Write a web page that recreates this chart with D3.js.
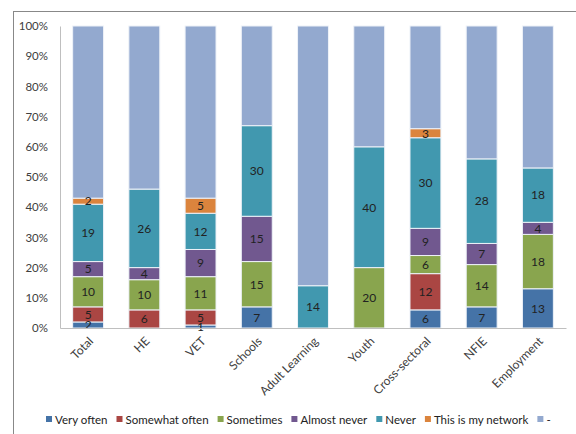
<!DOCTYPE html>
<html>
<head>
<meta charset="utf-8">
<script src="https://cdn.jsdelivr.net/npm/d3@7"></script>
<style>
  body { margin: 0; background: #fff; }
  text { font-family: Lato, "Open Sans", sans-serif; }
</style>
</head>
<body>
<div id="chart"></div>
<script>
// categories and series (percent of respondents)
var categories = ["Total", "HE", "VET", "Schools", "Adult Learning", "Youth", "Cross-sectoral", "NFIE", "Employment"];
var seriesNames = ["Very often", "Somewhat often", "Sometimes", "Almost never", "Never", "This is my network", "-"];
var veryOften      = [2, 0, 1, 7, 0, 0, 6, 7, 13];
var somewhatOften  = [5, 6, 5, 0, 0, 0, 12, 0, 0];
var sometimes      = [10, 10, 11, 15, 0, 20, 6, 14, 18];
var almostNever    = [5, 4, 9, 15, 0, 0, 9, 7, 4];
var never          = [19, 26, 12, 30, 14, 40, 30, 28, 18];
var myNetwork      = [2, 0, 5, 0, 0, 0, 3, 0, 0];
var dash           = [57, 54, 57, 33, 86, 40, 34, 44, 47];
var yTicks = [0, 10, 20, 30, 40, 50, 60, 70, 80, 90, 100];

var colors = ["#4573A7", "#AA4643", "#89A54E", "#71588F", "#4198AF", "#DB843D", "#93A9CF"];
var allSeries = [veryOften, somewhatOften, sometimes, almostNever, never, myNetwork, dash];

var data = categories.map(function(c, i) {
    var row = { name: c };
    seriesNames.forEach(function(s, j) { row[s] = allSeries[j][i]; });
    return row;
});

var W = 576, H = 434;
var margin = { top: 26, left: 60, right: 10, bottom: 106 };

var svg = d3.select("#chart").append("svg")
    .attr("width", W)
    .attr("height", H);

// outer frame
svg.append("rect")
    .attr("x", 13.5).attr("y", 11.5)
    .attr("width", W).attr("height", H)
    .attr("fill", "none")
    .attr("stroke", "#888")
    .attr("stroke-width", 1);

var x = d3.scaleBand()
    .domain(categories)
    .range([margin.left, 566])
    .paddingInner(0.45)
    .paddingOuter(0.225);

var y = d3.scaleLinear()
    .domain([0, 100])
    .range([H - margin.bottom, margin.top]);

var stacked = d3.stack().keys(seriesNames)(data);

// bars
var groups = svg.append("g")
    .selectAll("g")
    .data(stacked)
    .enter().append("g")
    .attr("fill", function(d, i) { return colors[i]; });

groups.selectAll("rect")
    .data(function(d) { return d.filter(function(p) { return p[1] - p[0] > 0; }); })
    .enter().append("rect")
    .attr("x", function(d) { return x(d.data.name); })
    .attr("y", function(d) { return y(d[1]); })
    .attr("width", x.bandwidth())
    .attr("height", function(d) { return y(d[0]) - y(d[1]); })
    .attr("stroke", "#eef2f8")
    .attr("stroke-width", 1);

// value labels (not for "-")
stacked.forEach(function(layer, i) {
    if (layer.key === "-") return;
    svg.append("g")
        .selectAll("text")
        .data(layer.filter(function(d) { return d[1] - d[0] > 0; }))
        .enter().append("text")
        .attr("x", function(d) { return x(d.data.name) + x.bandwidth() / 2; })
        .attr("y", function(d) { return (y(d[0]) + y(d[1])) / 2; })
        .attr("dy", "0.36em")
        .attr("text-anchor", "middle")
        .style("font-size", "12px")
        .style("fill", "#222")
        .text(function(d) { return d[1] - d[0]; });
});

// y axis
var yAxis = svg.append("g")
    .attr("transform", "translate(" + margin.left + ",0)")
    .call(d3.axisLeft(y).tickValues(yTicks).tickSize(0).tickPadding(12)
        .tickFormat(function(d) { return d + "%"; }));
yAxis.select(".domain").attr("stroke", "#bfbfbf");
yAxis.selectAll("text").style("font-size", "11.5px").style("fill", "#404040")
    .style("font-family", "Lato, sans-serif");

// x axis
var xAxis = svg.append("g")
    .attr("transform", "translate(0," + y(0) + ")")
    .call(d3.axisBottom(x).tickSize(0).tickSizeOuter(0));
xAxis.select(".domain").attr("stroke", "#bfbfbf");
xAxis.selectAll("text")
    .attr("transform", "translate(3,11) rotate(-45)")
    .attr("text-anchor", "end")
    .attr("dy", "0.35em")
    .attr("y", 0)
    .style("font-size", "12px")
    .style("fill", "#404040")
    .style("font-family", "Lato, sans-serif");

// legend
var legend = svg.append("g").attr("transform", "translate(0,421)");
var lx = 46;
seriesNames.forEach(function(s, i) {
    var g = legend.append("g").attr("transform", "translate(" + lx + ",0)");
    g.append("rect")
        .attr("x", 0).attr("y", -5)
        .attr("width", 6).attr("height", 6)
        .attr("fill", colors[i]);
    var t = g.append("text")
        .attr("x", 9).attr("y", 0)
        .attr("dy", "0.3em")
        .style("font-size", "11.5px")
        .style("fill", "#222")
        .text(s);
    lx += 9 + t.node().getComputedTextLength() + 9;
});
</script>
</body>
</html>
